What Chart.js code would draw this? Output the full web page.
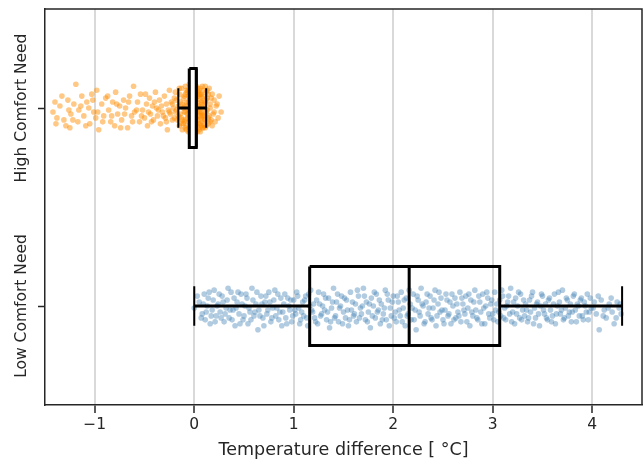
<!DOCTYPE html>
<html>
<head>
<meta charset="utf-8">
<script src="https://cdn.jsdelivr.net/npm/chart.js@4.4.0/dist/chart.umd.min.js"></script>
<style>
    body { margin: 0; background: #fff; }
    #wrap { width: 643px; height: 461px; }
</style>
</head>
<body>
<div id="wrap"><canvas id="boxChart" width="643" height="461"></canvas></div>
<script>
    const groups = ['High Comfort Need', 'Low Comfort Need']
    const xTicks = [-1, 0, 1, 2, 3, 4]
    const xTitle = 'Temperature difference [ \u00b0C]'

    // box statistics, one entry per group
    const whiskerLow = [-0.16, 0.00]
    const q1 = [-0.05, 1.16]
    const median = [0.02, 2.16]
    const q3 = [0.02, 3.07]
    const whiskerHigh = [0.12, 4.30]

    // strip points: [value, jitter]
    const highPoints = [
        [-1.42,0.02],[-1.40,-0.03],[-1.38,0.05],[-1.35,-0.01],[-1.31,0.06],[-1.29,0.09],[-1.27,-0.04],[-1.25,0.10],[-1.24,0.03],[-1.21,-0.02],
        [-1.19,-0.12],[-1.17,0.07],[-1.16,0.01],[-1.13,-0.06],[-1.11,0.04],[-1.08,-0.03],[-1.06,0.00],[-1.05,0.08],[-1.03,-0.07],[-1.01,0.02],
        [-0.99,0.05],[-0.98,-0.09],[-0.96,0.11],[-0.93,-0.02],[-0.91,0.04],[-0.89,-0.05],[-0.86,0.01],[-0.84,0.07],[-0.82,-0.03],[-0.80,0.09],
        [-0.79,-0.08],[-0.77,0.03],[-0.75,-0.01],[-0.73,0.06],[-0.71,-0.04],[-0.69,0.00],[-0.67,0.10],[-0.65,-0.06],[-0.63,0.04],[-0.61,-0.11],
        [-0.60,0.02],[-0.57,-0.03],[-0.55,0.07],[-0.54,-0.07],[-0.52,0.01],[-0.50,0.05],[-0.48,-0.02],[-0.47,0.09],[-0.45,-0.05],[-0.44,0.03],
        [-0.42,-0.01],[-0.41,0.06],[-0.39,-0.08],[-0.38,0.00],[-0.37,0.04],[-0.35,-0.04],[-0.34,0.08],[-0.33,-0.01],[-0.32,0.02],[-0.30,-0.06],
        [-0.29,0.05],[-0.28,-0.02],[-0.27,0.11],[-0.26,0.01],[-0.25,-0.09],[-0.24,0.03],[-0.23,-0.03],[-0.22,0.06],[-0.21,0.00],[-0.20,-0.05],
        [-1.39,0.08],[-1.33,-0.06],[-1.26,0.01],[-1.22,0.06],[-1.14,-0.01],[-1.09,0.09],[-1.02,-0.04],[-0.97,0.02],[-0.92,0.07],[-0.87,-0.06],
        [-0.83,0.04],[-0.78,-0.02],[-0.74,0.10],[-0.70,0.03],[-0.66,-0.03],[-0.62,0.07],[-0.58,0.01],[-0.53,0.04],[-0.49,-0.07],[-0.46,0.02],
        [-0.43,0.07],[-0.40,-0.03],[-0.36,0.01],[-0.31,0.04],[-0.28,0.07],[-0.25,0.02],[-0.22,-0.02],[-0.20,0.05],[-0.19,-0.08],[-0.18,0.01],
        [-0.19,0.02],[-0.18,-0.04],[-0.17,0.06],[-0.16,-0.01],[-0.15,0.09],[-0.15,-0.07],[-0.14,0.03],[-0.13,-0.10],[-0.13,0.05],[-0.12,-0.02],
        [-0.12,0.11],[-0.11,0.00],[-0.10,-0.06],[-0.10,0.07],[-0.09,-0.11],[-0.09,0.02],[-0.08,0.09],[-0.08,-0.03],[-0.07,0.05],[-0.07,-0.08],
        [-0.06,0.01],[-0.06,0.12],[-0.05,-0.05],[-0.05,0.04],[-0.05,-0.12],[-0.04,0.08],[-0.04,-0.02],[-0.03,0.10],[-0.03,-0.07],[-0.03,0.03],
        [-0.02,-0.10],[-0.02,0.06],[-0.02,-0.01],[-0.01,0.11],[-0.01,-0.04],[-0.01,0.02],[0.00,-0.09],[0.00,0.07],[0.00,-0.02],[0.00,0.04],
        [0.01,-0.12],[0.01,0.09],[0.01,-0.05],[0.02,0.01],[0.02,-0.08],[0.02,0.11],[0.03,-0.03],[0.03,0.06],[0.03,-0.10],[0.04,0.03],
        [0.04,-0.06],[0.04,0.10],[0.05,-0.01],[0.05,0.08],[0.05,-0.09],[0.06,0.04],[0.06,-0.04],[0.06,0.12],[0.07,-0.07],[0.07,0.02],
        [0.08,-0.11],[0.08,0.07],[0.08,-0.02],[0.09,0.10],[0.09,-0.06],[0.10,0.03],[0.10,-0.09],[0.11,0.06],[0.11,-0.03],[0.12,0.09],
        [0.12,-0.08],[0.13,0.01],[0.13,-0.05],[0.14,0.08],[0.15,-0.10],[0.15,0.04],[0.16,-0.02],[0.17,0.06],[0.18,-0.07],[0.19,0.03],
        [0.20,-0.04],[0.21,0.07],[0.22,-0.01],[0.24,0.05],[0.25,-0.06],[0.27,0.02],
        [-0.11,0.08],[-0.08,-0.09],[-0.06,-0.03],[-0.04,0.12],[-0.03,-0.11],[-0.01,0.05],[0.00,-0.06],[0.01,0.03],[0.02,-0.11],[0.03,0.09],
        [0.04,-0.08],[0.05,0.11],[0.06,-0.10],[0.07,0.05],[0.09,0.00],[0.10,0.09],[0.11,-0.11],[-0.09,0.06],[-0.07,-0.01],[-0.05,0.10],
        [-0.02,0.07],[0.00,0.10],[0.02,0.05],[0.04,0.00],[0.06,0.08],[0.08,0.04],[-0.04,-0.08],[0.01,-0.02],[0.03,-0.06],[0.05,0.02],
        [-0.16,0.04],[-0.14,-0.03],[-0.13,0.08],[-0.11,-0.05],[-0.10,0.02],[-0.09,-0.07],[-0.08,0.11],[-0.07,0.03],[-0.06,-0.06],[-0.05,0.07],
        [-0.04,0.01],[-0.03,-0.04],[-0.02,0.09],[-0.01,-0.08],[0.00,0.01],[0.01,0.06],[0.02,-0.05],[0.03,0.12],[0.04,-0.01],[0.05,-0.07],
        [0.06,0.02],[0.07,0.09],[0.08,-0.05],[0.09,0.04],[0.10,-0.02],[0.11,0.10],[0.12,0.02],[0.13,-0.09],[0.14,0.05],[0.16,0.00],
        [0.17,-0.05],[0.18,0.09],[0.20,0.02],[0.23,-0.02],[-0.15,-0.10],[-0.12,0.06],[-0.09,0.10],[-0.06,-0.09],[-0.03,0.06],[0.00,-0.11],
        [0.02,0.08],[0.04,0.06],[0.06,-0.07],[0.08,0.10],[0.10,0.06],[0.12,-0.04],[0.14,-0.07],[0.16,0.07],[-0.10,-0.01],[0.07,-0.03]
    ]
    const lowPoints = [
        [0.00,0.01],[0.05,-0.02],[0.08,0.04],[0.10,-0.06],[0.11,0.07],[0.13,0.00],[0.14,-0.04],[0.16,0.09],[0.18,0.02],[0.20,-0.08],
        [0.22,0.05],[0.24,-0.01],[0.26,0.03],[0.28,-0.05],[0.30,0.08],[0.32,0.01],[0.33,-0.03],[0.35,0.06],[0.37,-0.07],[0.39,0.02],
        [0.41,0.10],[0.43,-0.02],[0.45,0.04],[0.47,-0.06],[0.49,0.07],
        [0.51,0.00],[0.53,-0.04],[0.54,0.09],[0.56,0.03],[0.58,-0.09],[0.60,0.05],[0.62,-0.01],[0.64,0.12],[0.65,0.02],[0.67,-0.05],
        [0.69,0.06],[0.71,-0.02],[0.73,0.04],[0.75,-0.07],[0.77,0.08],[0.79,0.01],[0.80,-0.03],[0.82,0.05],[0.84,-0.06],[0.86,0.03],
        [0.88,0.10],[0.90,-0.01],[0.92,0.06],[0.94,-0.04],[0.96,0.02],[0.98,0.08],
        [1.00,-0.03],[1.02,0.04],[1.03,-0.07],[1.05,0.01],[1.07,0.07],[1.09,-0.02],[1.10,0.05],[1.12,-0.05],[1.14,0.10],[1.16,0.00],
        [1.17,-0.08],[1.19,0.03],[1.21,0.06],[1.23,-0.03],[1.24,0.09],[1.26,-0.01],[1.28,0.04],[1.30,-0.06],[1.31,0.02],[1.33,0.07],
        [1.35,-0.04],[1.36,0.11],[1.38,0.01],[1.40,-0.09],[1.42,0.05],[1.43,-0.02],[1.45,0.08],[1.47,0.00],[1.48,-0.05],[1.50,0.03],
        [1.52,0.06],[1.53,-0.03],[1.55,0.10],[1.57,-0.07],[1.58,0.02],[1.60,0.05],[1.62,-0.01],[1.63,0.08],[1.65,-0.05],[1.67,0.01],
        [1.68,0.04],[1.70,-0.09],[1.72,0.07],[1.73,-0.02],[1.75,0.03],[1.77,0.11],[1.78,-0.04],[1.80,0.00],[1.82,0.06],[1.83,-0.06],
        [1.85,0.02],[1.87,0.09],[1.88,-0.01],[1.90,0.04],[1.92,-0.08],[1.93,0.07],[1.95,-0.03],[1.97,0.01],[1.98,0.05],[2.00,-0.05],
        [2.02,0.03],[2.03,0.08],[2.05,-0.02],[2.07,0.05],[2.08,-0.07],[2.10,0.01],[2.12,0.10],[2.13,-0.04],[2.15,0.04],[2.17,-0.01],
        [2.18,0.07],[2.20,-0.06],[2.22,0.02],[2.23,0.12],[2.25,-0.03],[2.27,0.05],[2.28,-0.09],[2.30,0.00],[2.32,0.08],[2.33,-0.02],
        [2.35,0.04],[2.37,-0.05],[2.38,0.06],[2.40,0.01],[2.42,-0.08],[2.43,0.10],[2.45,-0.01],[2.47,0.03],[2.48,-0.04],[2.50,0.07],
        [2.52,0.02],[2.53,-0.06],[2.55,0.05],[2.57,-0.02],[2.58,0.09],[2.60,0.00],[2.62,-0.04],[2.63,0.06],[2.65,0.03],[2.67,-0.07],
        [2.68,0.08],[2.70,-0.01],[2.72,0.04],[2.73,-0.05],[2.75,0.01],[2.77,0.10],[2.78,-0.03],[2.80,0.05],[2.82,-0.08],[2.83,0.02],
        [2.85,0.07],[2.87,-0.02],[2.88,0.03],[2.90,-0.06],[2.92,0.09],[2.93,0.00],[2.95,-0.04],[2.97,0.06],[2.98,-0.01],[3.00,0.04],
        [3.02,-0.07],[3.03,0.02],[3.05,0.08],[3.07,-0.03],[3.08,0.05],[3.10,-0.05],[3.12,0.01],[3.13,0.07],[3.15,-0.02],[3.17,0.04],
        [3.18,-0.09],[3.20,0.03],[3.22,0.09],[3.23,-0.04],[3.25,0.00],[3.27,0.06],[3.28,-0.06],[3.30,0.02],[3.32,0.05],[3.33,-0.01],
        [3.35,0.08],[3.37,-0.03],[3.38,0.03],[3.40,-0.07],[3.42,0.01],[3.43,0.06],[3.45,-0.02],[3.47,0.10],[3.48,0.00],[3.50,-0.05],
        [3.52,0.04],[3.53,-0.01],[3.55,0.07],[3.57,-0.04],[3.58,0.02],[3.60,0.05],[3.62,-0.06],[3.63,0.09],[3.65,0.00],[3.67,-0.02],
        [3.68,0.04],[3.70,-0.08],[3.72,0.06],[3.73,0.01],[3.75,-0.03],[3.77,0.03],[3.79,0.08],[3.81,-0.05],[3.83,0.02],[3.85,-0.01],
        [3.87,0.05],[3.89,-0.04],[3.91,0.07],[3.93,0.00],[3.95,-0.06],[3.97,0.03],[3.99,0.01],
        [4.02,-0.02],[4.04,0.04],[4.07,0.12],[4.09,-0.03],[4.12,0.02],[4.14,0.06],[4.17,-0.01],[4.20,0.03],[4.22,0.09],[4.25,-0.02],
        [4.27,0.01],[4.29,0.04],
        [0.03,-0.05],[0.07,0.06],[0.09,-0.01],[0.12,0.03],[0.15,-0.07],[0.17,0.05],[0.19,-0.03],[0.21,0.08],[0.23,0.00],[0.25,-0.06],
        [0.27,0.06],[0.29,-0.02],[0.31,0.04],[0.34,-0.09],[0.36,0.02],[0.38,0.07],[0.40,-0.04],[0.42,0.01],[0.44,-0.07],[0.46,0.09],
        [0.48,-0.01],[0.50,0.05],[0.52,-0.06],[0.55,0.01],[0.57,0.07],[0.59,-0.03],[0.61,0.03],[0.63,-0.07],[0.66,0.05],[0.68,-0.01],
        [0.70,0.10],[0.72,-0.05],[0.74,0.02],[0.76,-0.02],[0.78,0.06],[0.81,-0.08],[0.83,0.01],[0.85,0.07],[0.87,-0.04],[0.89,0.03],
        [0.91,-0.06],[0.93,0.09],[0.95,0.00],[0.97,-0.03],[0.99,0.05],
        [1.01,0.02],[1.04,-0.05],[1.06,0.09],[1.08,0.03],[1.11,-0.03],[1.13,0.06],[1.15,-0.06],[1.18,0.02],[1.20,-0.01],[1.22,0.08],
        [1.25,-0.07],[1.27,0.05],[1.29,0.00],[1.32,-0.04],[1.34,0.03],[1.37,0.08],[1.39,-0.02],[1.41,0.06],[1.44,-0.06],[1.46,0.01],
        [1.49,0.09],[1.51,-0.04],[1.54,0.02],[1.56,0.07],[1.59,-0.02],[1.61,0.04],[1.64,-0.08],[1.66,0.06],[1.69,0.00],[1.71,-0.05],
        [1.74,0.08],[1.76,-0.01],[1.79,0.05],[1.81,-0.07],[1.84,0.03],[1.86,-0.03],[1.89,0.07],[1.91,0.01],[1.94,-0.06],[1.96,0.10],
        [1.99,-0.02],[2.01,0.06],[2.04,-0.05],[2.06,0.02],[2.09,0.08],[2.11,-0.03],[2.14,0.05],[2.16,-0.08],[2.19,0.01],[2.21,0.07],
        [2.24,-0.05],[2.26,0.03],[2.29,-0.01],[2.31,0.09],[2.34,-0.06],[2.36,0.01],[2.39,0.07],[2.41,-0.03],[2.44,0.05],[2.46,-0.07],
        [2.49,0.02],[2.51,0.09],[2.54,-0.03],[2.56,0.04],[2.59,-0.06],[2.61,0.07],[2.64,-0.01],[2.66,0.05],[2.69,-0.04],[2.71,0.02],
        [2.74,0.08],[2.76,-0.06],[2.79,0.03],[2.81,-0.02],[2.84,0.06],[2.86,-0.05],[2.89,0.09],[2.91,0.01],[2.94,-0.07],[2.96,0.04],
        [2.99,-0.03],[3.01,0.07],[3.04,-0.01],[3.06,0.03],[3.09,-0.08],[3.11,0.06],[3.14,0.00],[3.16,-0.05],[3.19,0.08],[3.21,-0.02],
        [3.24,0.04],[3.26,-0.07],[3.29,0.07],[3.31,-0.03],[3.34,0.02],[3.36,0.06],[3.39,-0.05],[3.41,0.09],[3.44,-0.01],[3.46,0.04],
        [3.49,-0.06],[3.51,0.02],[3.54,0.06],[3.56,-0.03],[3.59,0.08],[3.61,-0.01],[3.64,0.04],[3.66,-0.07],[3.69,0.02],[3.71,0.07],
        [3.74,-0.04],[3.76,0.05],[3.78,-0.01],[3.80,0.03],[3.82,-0.06],[3.84,0.08],[3.86,0.00],[3.88,-0.03],[3.90,0.05],[3.92,-0.02],
        [3.94,0.03],[3.96,0.07],[3.98,-0.04],[4.01,0.01],[4.06,-0.05],[4.11,0.05],[4.16,0.01],[4.19,-0.04],[4.24,0.06],[4.28,-0.01]
    ]

    const ink = '#262626'
    const pointColors = ['rgba(255,140,0,0.48)', 'rgba(70,130,180,0.42)']
    const boxHalf = 0.2
    const capHalf = 0.1

    function lineSet(points, width, extra) {
        return Object.assign({
            data: points,
            showLine: true,
            borderColor: '#000',
            borderWidth: width,
            pointRadius: 0,
            fill: false,
            order: 1
        }, extra || {})
    }

    function boxDatasets(i) {
        let top = i - boxHalf, bottom = i + boxHalf
        return [
            lineSet([
                { x: q1[i], y: top }, { x: q3[i], y: top }, { x: q3[i], y: bottom },
                { x: q1[i], y: bottom }, { x: q1[i], y: top }
            ], 3, i === 0 ? { fill: 'shape', backgroundColor: '#fff' } : {}),
            lineSet([{ x: median[i], y: top }, { x: median[i], y: bottom }], 3),
            lineSet([{ x: whiskerLow[i], y: i }, { x: q1[i], y: i }], 3),
            lineSet([{ x: q3[i], y: i }, { x: whiskerHigh[i], y: i }], 3),
            lineSet([{ x: whiskerLow[i], y: i - capHalf }, { x: whiskerLow[i], y: i + capHalf }], 2),
            lineSet([{ x: whiskerHigh[i], y: i - capHalf }, { x: whiskerHigh[i], y: i + capHalf }], 2)
        ]
    }

    function stripDataset(points, i) {
        return {
            data: points.map(p => ({ x: p[0], y: i + p[1] })),
            backgroundColor: pointColors[i],
            borderWidth: 0,
            pointRadius: 2.8,
            order: 2
        }
    }

    // top and right spines
    const framePlugin = {
        id: 'frame',
        afterDraw(chart) {
            const a = chart.chartArea
            const ctx = chart.ctx
            ctx.save()
            ctx.strokeStyle = ink
            ctx.lineWidth = 1.5
            ctx.beginPath()
            ctx.moveTo(a.left, a.top)
            ctx.lineTo(a.right, a.top)
            ctx.lineTo(a.right, a.bottom)
            ctx.stroke()
            ctx.restore()
        }
    }

    const datasets = [
        stripDataset(highPoints, 0),
        stripDataset(lowPoints, 1),
        ...boxDatasets(0),
        ...boxDatasets(1)
    ]

    new Chart(document.getElementById('boxChart'), {
        type: 'scatter',
        data: { datasets: datasets },
        options: {
            responsive: false,
            animation: false,
            layout: { autoPadding: false, padding: { top: 9, right: 1, left: 0, bottom: 0 } },
            plugins: { legend: { display: false }, tooltip: { enabled: false } },
            scales: {
                x: {
                    type: 'linear',
                    min: -1.5,
                    max: 4.5,
                    afterBuildTicks: axis => { axis.ticks = xTicks.map(v => ({ value: v })) },
                    ticks: {
                        color: ink,
                        font: { family: 'DejaVu Sans', size: 15.5 },
                        padding: 3,
                        callback: v => v < 0 ? '\u2212' + Math.abs(v) : String(v)
                    },
                    grid: { color: '#d9d9d9', lineWidth: 2, tickColor: ink, tickLength: 8, tickWidth: 1.5 },
                    border: { color: ink, width: 1.5 },
                    title: {
                        display: true,
                        text: xTitle,
                        color: ink,
                        font: { family: 'DejaVu Sans', size: 17.5 },
                        padding: { top: 0, bottom: 0 }
                    },
                    afterFit: scale => { scale.height = 56 }
                },
                y: {
                    type: 'linear',
                    min: -0.5,
                    max: 1.5,
                    reverse: true,
                    afterBuildTicks: axis => { axis.ticks = groups.map((g, i) => ({ value: i })) },
                    ticks: {
                        color: ink,
                        font: { family: 'DejaVu Sans', size: 15.5 },
                        minRotation: 90,
                        maxRotation: 90,
                        crossAlign: 'center',
                        padding: -58,
                        callback: v => groups[v]
                    },
                    grid: { drawOnChartArea: false, tickColor: ink, tickLength: 7, tickWidth: 1.5 },
                    border: { color: ink, width: 1.5 },
                    afterFit: scale => { scale.width = 45 }
                }
            }
        },
        plugins: [framePlugin]
    })
</script>
</body>
</html>
